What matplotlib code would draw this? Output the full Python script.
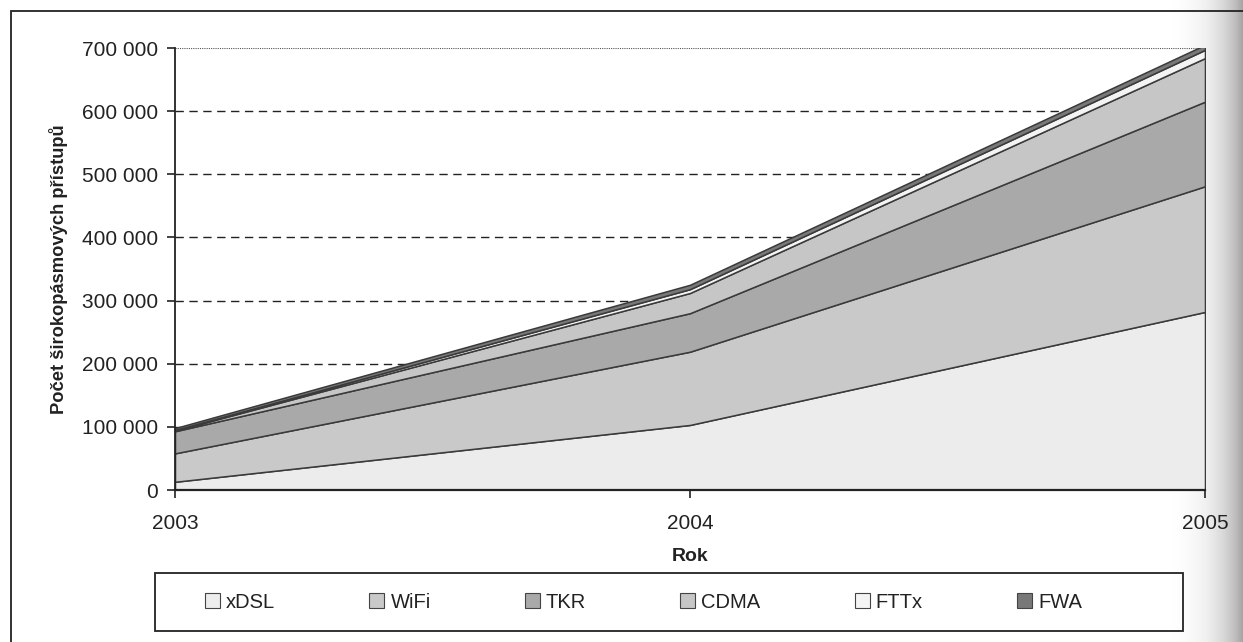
import numpy as np
import matplotlib
matplotlib.use("Agg")
from matplotlib import pyplot as plt
from matplotlib.patches import Rectangle

plt.rcParams['font.family'] = ['Liberation Sans', 'DejaVu Sans']

# data (subscriber counts)
years = [2003, 2004, 2005]
xdsl = [13000, 103000, 282000]
wifi = [45000, 116000, 199000]
tkr = [35000, 61000, 134000]
cdma = [1000, 32000, 69000]
fttx = [1000, 6000, 13000]
fwa = [3000, 7000, 8000]

labels = ["xDSL", "WiFi", "TKR", "CDMA", "FTTx", "FWA"]
colors = ["#ececec", "#c9c9c9", "#a9a9a9", "#c6c6c6", "#f4f4f4", "#787878"]
yticks = [0, 100000, 200000, 300000, 400000, 500000, 600000, 700000]


def fmt(v):
    return f"{v:,}".replace(",", " ")


fig = plt.figure(figsize=(12.43, 6.42), dpi=100)
W, H = 1243, 642

# outer chart frame (runs off the right and bottom of the scan)
fig.add_artist(Rectangle((11 / W, -0.05), 1.1, 1 - 11 / H + 0.05,
                         transform=fig.transFigure, fill=False,
                         edgecolor="#222222", lw=1.3))
# legend box
fig.add_artist(Rectangle((155 / W, 1 - 631 / H), (1183 - 155) / W, (631 - 573) / H,
                         transform=fig.transFigure, fill=False,
                         edgecolor="#222222", lw=1.3))

ax = fig.add_axes([175 / W, 1 - 490 / H, (1205 - 175) / W, (490 - 48) / H])

series = [xdsl, wifi, tkr, cdma, fttx, fwa]
polys = ax.stackplot(years, *series, colors=colors, labels=labels,
                     edgecolor="#3a3a3a", linewidth=1.1, zorder=2)

for v in yticks[1:-1]:
    ax.axhline(v, color="#222222", lw=1.0, ls=(0, (6, 4)), zorder=1)
ax.axhline(700000, color="#555555", lw=0.8, ls=(0, (1, 1)), zorder=1)

ax.set_xlim(2003, 2005)
ax.set_ylim(0, 700000)
ax.set_xticks(years)
ax.set_xticklabels([str(y) for y in years])
ax.set_yticks(yticks)
ax.set_yticklabels([fmt(v) for v in yticks])
ax.tick_params(axis="both", labelsize=15, color="#222222", labelcolor="#222222",
               direction="out", length=6, width=1.2, pad=11)
ax.tick_params(axis="y", pad=6)

for s in ["top", "right"]:
    ax.spines[s].set_visible(False)
ax.spines["left"].set_color("#222222")
ax.spines["left"].set_linewidth(1.3)
ax.spines["bottom"].set_color("#222222")
ax.spines["bottom"].set_linewidth(1.6)
ax.patch.set_alpha(0)

ax.set_xlabel("Rok", fontsize=14, fontweight="bold", color="#222222", labelpad=11)
ax.set_ylabel("Počet širokopásmových přístupů", fontsize=13.2, fontweight="bold",
              color="#222222", labelpad=10)

leg = fig.legend(*ax.get_legend_handles_labels(), loc="center left",
                 bbox_to_anchor=(205 / W, 1 - 631 / H, (1082 - 205) / W, (631 - 573) / H),
                 mode="expand", ncol=6, frameon=False,
                 fontsize=14.5, handlelength=0.75, handleheight=0.75,
                 handletextpad=0.3, borderaxespad=0, borderpad=0)
for h in leg.legend_handles:
    h.set_edgecolor("#444444")
    h.set_linewidth(0.8)
for t in leg.get_texts():
    t.set_color("#222222")

# scanner shadow along the right edge
grad = np.linspace(0, 1, 200) ** 2
shade = np.tile(grad, (10, 1))
sax = fig.add_axes([1165 / W, 0, 78 / W, 1], zorder=-1)
sax.imshow(shade, cmap="Greys", vmin=0, vmax=2.2, aspect="auto", extent=(0, 1, 0, 1))
sax.axis("off")

fig.savefig("out.png", dpi=100)
